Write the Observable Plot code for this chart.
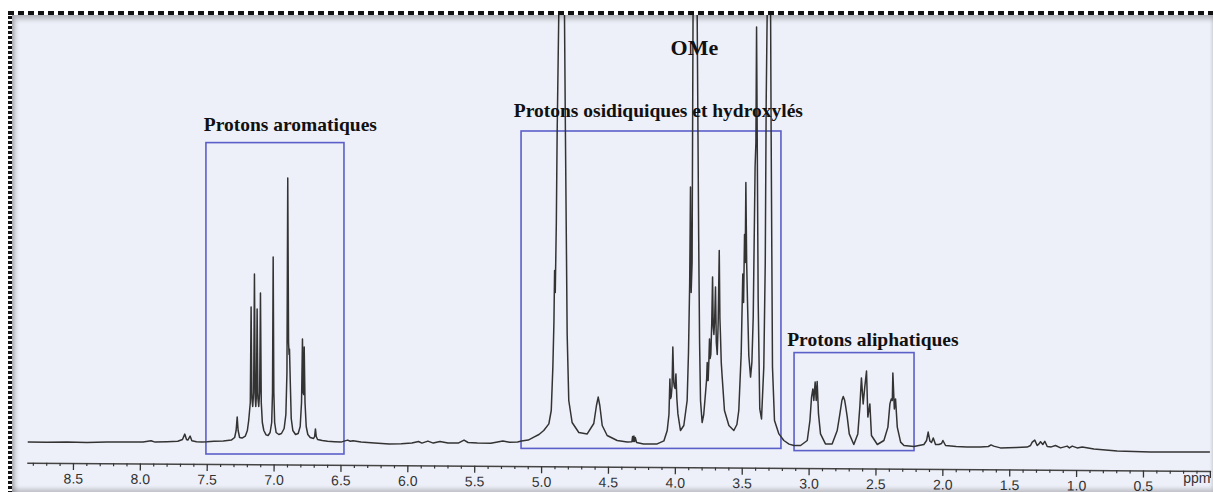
<!DOCTYPE html>
<html><head><meta charset="utf-8">
<script src="https://cdn.jsdelivr.net/npm/d3@7"></script>
<script src="https://cdn.jsdelivr.net/npm/@observablehq/plot@0.6"></script>
<style>
html,body{margin:0;padding:0;background:#fff;width:1213px;height:492px;overflow:hidden;}
#panel{position:absolute;left:12px;top:15px;width:1201px;height:477px;background:#eef0f9;overflow:hidden;}
#shade{position:absolute;left:12px;top:15px;width:1201px;height:477px;pointer-events:none;box-shadow:inset 3px 4px 5px rgba(0,0,0,0.25), inset 0 -3px 4px rgba(0,0,0,0.2);}
#btop{position:absolute;left:8px;top:11px;width:1205px;height:4px;background:repeating-linear-gradient(to right,#111 0 6px,transparent 6px 10px);}
#bleft{position:absolute;left:8px;top:11px;width:4px;height:481px;background:repeating-linear-gradient(to bottom,#111 0 3px,transparent 3px 5px);}
</style></head>
<body>
<div id="panel"></div>
<div id="shade"></div>
<div id="btop"></div>
<div id="bleft"></div>
<script>
// 1H NMR trace: [chemical shift (ppm), intensity (arb. units)]
const trace = [
[8.84,0.2],[8.70,0.1],[8.55,0.2],[8.40,0],[8.25,0.2],[8.10,0.3],[7.98,0.3],[7.92,0.9],[7.89,0.2],[7.80,0.4],[7.72,0.6],[7.685,1.5],[7.668,4.2],[7.655,1.5],[7.645,1.2],[7.628,3.2],[7.615,0.9],[7.58,0.4],[7.54,0.3],
[7.50,0.4],[7.45,0.6],[7.38,0.8],[7.32,1.2],[7.295,2.5],[7.284,6],[7.276,12.7],[7.269,6],[7.258,2.5],[7.24,2.2],[7.215,3.2],[7.20,6],[7.19,11],[7.178,20],[7.172,67.7],[7.166,22],[7.16,18],[7.153,25],[7.147,84.3],[7.141,22],[7.137,18],[7.132,24],[7.127,66.8],[7.121,22],[7.115,18],[7.108,25],[7.102,74.7],[7.096,20],[7.088,10],[7.077,6],[7.06,3.8],[7.045,3.5],[7.03,5],[7.018,10],[7.012,25],[7.007,92.7],[7.002,25],[6.996,10],[6.985,5],[6.965,4],[6.945,4.5],[6.925,7],[6.912,14],[6.904,35],[6.898,132.3],[6.892,50],[6.888,44],[6.885,46.8],[6.879,30],[6.872,12],[6.86,6],[6.84,4],[6.82,4.5],[6.805,8],[6.795,20],[6.788,51.8],[6.783,25],[6.779,24],[6.775,47.7],[6.769,20],[6.76,8],[6.748,4],[6.73,2.5],[6.705,2],[6.697,3],[6.691,6.8],[6.685,3],[6.675,1.5],[6.64,1],[6.60,0.6],[6.55,0.4],[6.50,0.2],
[6.47,0.8],[6.45,1.2],[6.43,0.6],[6.41,0.9],[6.35,0.2],[6.25,-0.2],[6.14,-0.8],[6.05,-0.6],[5.97,-0.3],[5.92,0.5],[5.895,-0.3],[5.85,0.7],[5.81,-0.3],[5.76,0.5],[5.70,-0.3],[5.62,-0.2],[5.58,1.2],[5.55,0],[5.48,-0.3],[5.38,-0.4],[5.29,0.7],[5.24,0.1],[5.18,0.3],[5.15,0.8],
[5.10,1.2],[5.058,2.7],[5.02,4],[4.984,6],[4.946,9.3],[4.928,16],[4.916,37.7],[4.908,60],[4.903,86],[4.898,75],[4.89,110],[4.884,154],[4.872,213],[4.85,300],[4.829,213],[4.822,154],[4.809,54],[4.797,21],[4.772,10],[4.722,5],[4.659,4.3],[4.61,9.5],[4.59,18.5],[4.577,22.7],[4.565,18.5],[4.547,8.5],[4.51,3.5],[4.435,1],[4.36,0.2],[4.325,0.4],[4.32,3],[4.315,0.5],[4.31,3.2],[4.305,0.5],[4.30,2.5],[4.29,0],[4.238,-0.7],[4.136,-0.7],[4.086,0.8],[4.061,6],[4.048,14],[4.041,31.8],[4.036,22],[4.031,23],[4.025,28],[4.019,47.7],[4.012,30],[4.008,28],[4.002,27],[3.996,34.3],[3.989,22],[3.981,14.3],[3.962,6],[3.937,8.5],[3.912,21],[3.902,45],[3.893,80],[3.887,127.7],[3.882,75],[3.875,90],[3.868,213],[3.85,300],[3.837,213],[3.826,104],[3.819,50],[3.812,21],[3.80,10],
[3.788,14],[3.775,24.5],[3.766,32],[3.762,40],[3.758,31],[3.755,31],[3.75,40],[3.745,51.8],[3.74,42],[3.735,44],[3.728,60],[3.722,82.7],[3.717,58],[3.712,54],[3.706,62],[3.70,77.7],[3.694,50],[3.687,44],[3.68,60],[3.672,96],[3.667,62],[3.663,54],[3.657,40],[3.65,32.7],[3.633,16],[3.60,8.5],[3.563,6],[3.54,9],[3.526,16],[3.508,44.3],[3.496,84.3],[3.49,70],[3.483,104],[3.478,90],[3.473,130],[3.467,90],[3.461,71],[3.451,43.5],[3.438,32.7],[3.428,40],[3.418,62.7],[3.404,137.7],[3.398,150],[3.393,207.7],[3.387,140],[3.381,71],[3.369,16.8],[3.356,11.8],[3.339,37.7],[3.328,90],[3.321,171],[3.314,213],[3.30,300],[3.288,213],[3.284,154],[3.274,37.7],[3.259,11],[3.226,4.3],[3.189,1],[3.15,-0.8],[3.114,-1.5],[3.064,-1.5],
[3.014,1],[2.994,11],[2.982,22.7],[2.972,26.8],[2.965,21],[2.955,30.2],[2.947,21],[2.94,30.5],[2.93,14.3],[2.915,4.3],[2.878,-0.7],[2.828,-0.7],[2.79,6],[2.77,14.3],[2.755,21],[2.745,23],[2.735,21.3],[2.726,17.7],[2.715,12.7],[2.70,4.3],[2.666,-1],[2.636,4.3],[2.621,17.7],[2.609,32.3],[2.596,19.3],[2.584,27.7],[2.571,35.7],[2.561,12.7],[2.546,19.3],[2.534,3.5],[2.49,-1],[2.441,1],[2.411,7.7],[2.396,19.3],[2.386,21.8],[2.378,21],[2.374,34.7],[2.363,16.8],[2.354,21.8],[2.341,7.7],[2.316,0.2],[2.291,-1.5],[2.217,-2],[2.142,-1],[2.122,1],[2.11,5.2],[2.097,0.7],[2.085,0],[2.072,2.3],[2.055,-1],[2.03,-1],[2.01,-0.5],[2.0,1],[1.98,-1.5],[1.90,-2],[1.82,-2.3],[1.72,-2.3],[1.66,-2],[1.64,-1.2],[1.62,-1.8],[1.57,-2.7],[1.45,-2.5],[1.37,-2.3],[1.345,-1.5],[1.332,0.2],[1.313,1.2],[1.295,-1.5],[1.283,-0.8],[1.27,0.4],[1.253,-1],[1.238,0.6],[1.22,-2],[1.19,-2.2],[1.158,-1.5],[1.12,-2.7],[1.071,-1.8],[1.054,-2.7],[1.033,-1.8],[0.996,-2.7],[0.958,-2.3],[0.871,-3.2],[0.697,-4.3],[0.448,-4.7],[0.199,-4.8],[0.0,-4.8]
];

// Highlighted regions
const boxStart = [7.506, 5.15, 3.109];
const boxEnd = [6.474, 3.207, 2.212];
const boxTop = [149.7, 155.5, 44.7];
const boxBottom = [-6, -3.2, -4.3];

// Annotations
const labelText = ["Protons aromatiques", "Protons osidiquiques et hydroxylés", "OMe", "Protons aliphatiques"];
const labelPpm = [7.526, 5.208, 4.036, 3.164];
const labelIntensity = [156, 162.8, 193.8, 48.5];

// Axis ticks
const majorTicks = [8.5, 8.0, 7.5, 7.0, 6.5, 6.0, 5.5, 5.0, 4.5, 4.0, 3.5, 3.0, 2.5, 2.0, 1.5, 1.0, 0.5, 0.0];
const minorTicks = d3.range(1, 89).filter(i => i % 5 !== 0).map(i => i / 10);
const unitLabel = "ppm";

const boxes = boxStart.map((s, i) => ({x1: s, x2: boxEnd[i], y1: boxBottom[i], y2: boxTop[i]}));
const labels = labelText.map((t, i) => ({text: t, x: labelPpm[i], y: labelIntensity[i]}));

const W = 1201, H = 477, MB = 29;
const chart = Plot.plot({
  width: W, height: H,
  marginLeft: 15.5, marginRight: 3.1, marginTop: 0, marginBottom: MB,
  x: {domain: [8.84, 0]},
  y: {domain: [0, 200], range: [427, 27], axis: null},
  style: {background: "transparent", color: "#333", fontFamily: "'Liberation Sans', Arial, sans-serif", fontSize: "14px", overflow: "hidden"},
  marks: [
    Plot.rect(boxes, {x1: "x1", x2: "x2", y1: "y1", y2: "y2", stroke: "#5b5fc9", strokeWidth: 1.6, fill: "none"}),
    Plot.line(trace, {x: d => d[0], y: d => d[1], stroke: "#333", strokeWidth: 1.5, clip: true}),
    Plot.text(labels, {x: "x", y: "y", text: "text", textAnchor: "start", lineAnchor: "bottom",
      fontFamily: "'Liberation Serif', 'Times New Roman', serif", fontWeight: "bold",
      fontSize: d => d.text === "OMe" ? 22 : 19.5, fill: "#111"}),
    Plot.frame({anchor: "bottom", stroke: "#444", strokeWidth: 1.5}),
    Plot.axisX(minorTicks, {tickSize: 3, tickFormat: () => "", strokeWidth: 1.2}),
    Plot.axisX(majorTicks, {tickSize: 7, tickPadding: 3, strokeWidth: 1.3, tickFormat: d => d === 0 ? "" : d.toFixed(1), fontSize: 14}),
    Plot.text([0], {x: d => d, text: () => unitLabel, frameAnchor: "bottom", dy: 10, lineAnchor: "top", textAnchor: "end", fontSize: 14, ariaLabel: "ppm unit"})
  ]
});

const svg = chart.tagName.toLowerCase() === "svg" ? chart : chart.querySelector("svg");
const px = svg.scale ? svg.scale("x").apply(8.5) : 61;
const py = H - MB;
d3.select(svg).selectAll('[aria-label^="x-axis"], [aria-label="frame"], [aria-label="ppm unit"]').each(function() {
  const t = this.getAttribute("transform") || "";
  this.setAttribute("transform", `rotate(0.4 ${px} ${py}) ${t}`);
});
document.getElementById("panel").appendChild(chart);
</script>
</body></html>
